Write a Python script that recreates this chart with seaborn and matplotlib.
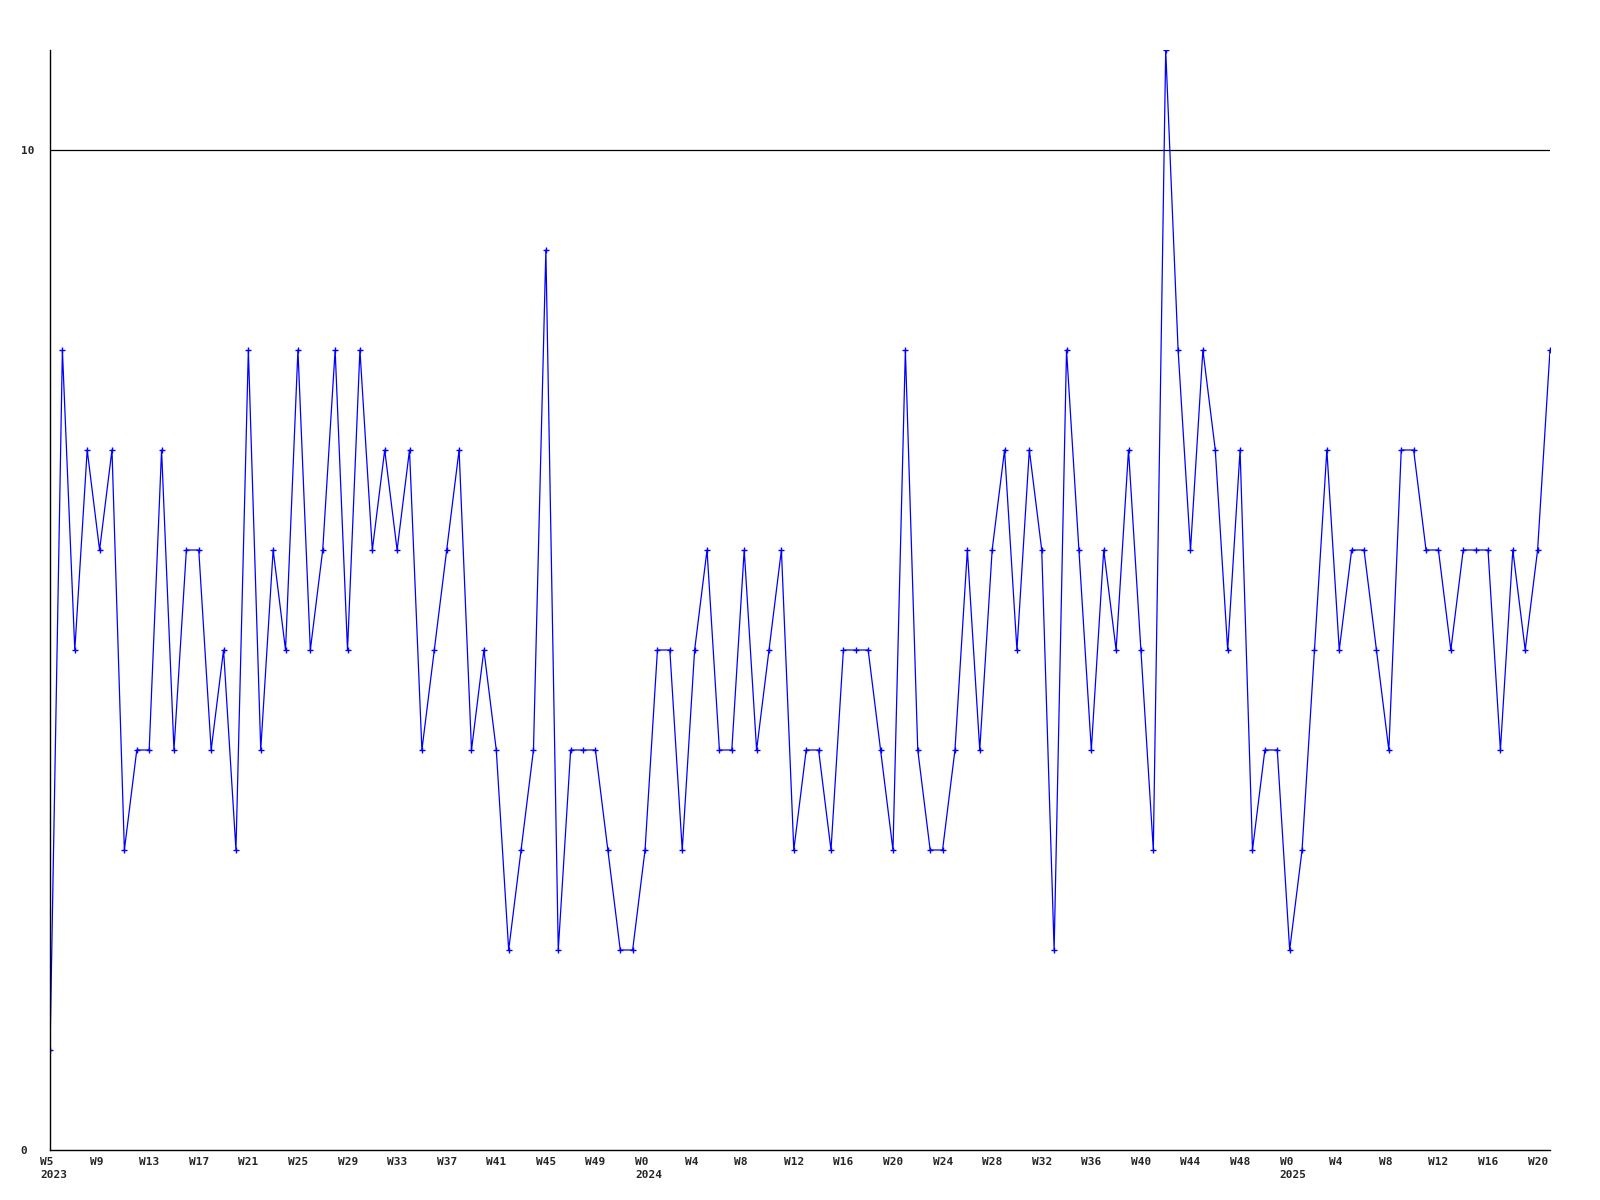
import pandas as pd
import seaborn as sns
import matplotlib.pyplot as plt
from matplotlib.transforms import ScaledTranslation

# weekly counts, W5 2023 .. W21 2025
values_2023 = [1, 8, 5, 7, 6, 7, 3, 4, 4, 7,
               4, 6, 6, 4, 5, 3, 8, 4, 6, 5,
               8, 5, 6, 8, 5, 8, 6, 7, 6, 7,
               4, 5, 6, 7, 4, 5, 4, 2, 3, 4,
               9, 2, 4, 4, 4, 3, 2, 2]
values_2024 = [3, 5, 5, 3, 5, 6, 4, 4, 6, 4,
               5, 6, 3, 4, 4, 3, 5, 5, 5, 4,
               3, 8, 4, 3, 3, 4, 6, 4, 6, 7,
               5, 7, 6, 2, 8, 6, 4, 6, 5, 7,
               5, 3, 11, 8, 6, 8, 7, 5, 7, 3,
               4, 4]
values_2025 = [2, 3, 5, 7, 5, 6, 6, 5, 4, 7,
               7, 6, 6, 5, 6, 6, 6, 4, 6, 5,
               6, 8]

weeks_2023 = list(range(5, 53))
weeks_2024 = list(range(0, 52))
weeks_2025 = list(range(0, 22))

tick_labels = ["W5\n2023", "W9", "W13", "W17", "W21", "W25", "W29", "W33",
               "W37", "W41", "W45", "W49",
               "W0\n2024", "W4", "W8", "W12", "W16", "W20", "W24", "W28",
               "W32", "W36", "W40", "W44", "W48",
               "W0\n2025", "W4", "W8", "W12", "W16", "W20"]
y_ticks = [0, 10]

df = pd.DataFrame({
    "year": [2023] * len(weeks_2023) + [2024] * len(weeks_2024) + [2025] * len(weeks_2025),
    "week": weeks_2023 + weeks_2024 + weeks_2025,
    "count": values_2023 + values_2024 + values_2025,
})
df["pos"] = range(len(df))

# ticks every 4th week within each year
tick_pos = df.loc[((df["year"] == 2023) & ((df["week"] - 5) % 4 == 0)) |
                  ((df["year"] != 2023) & (df["week"] % 4 == 0)), "pos"].tolist()

sns.set_style("white")
plt.rcParams["font.family"] = ["DejaVu Sans Mono", "DejaVu Sans"]
plt.rcParams["font.weight"] = "bold"

fig = plt.figure(figsize=(16, 12), dpi=100)
ax = fig.add_axes([50 / 1600, 50 / 1200, 1500 / 1600, 1100 / 1200])

sns.lineplot(data=df, x="pos", y="count", ax=ax, color="#0000ff", linewidth=0.9,
             marker="+", markersize=5, markeredgewidth=1.0, markeredgecolor="#0000ff")

ax.axhline(10, color="black", linewidth=0.9, zorder=1)

ax.set_xlim(0, len(df) - 1)
ax.set_ylim(0, 11)
ax.set_xticks(tick_pos)
ax.set_xticklabels(tick_labels, fontsize=8, fontweight="bold", ha="left",
                   multialignment="left", linespacing=1.35)
ax.set_yticks(y_ticks)
ax.set_yticklabels([str(t) for t in y_ticks], fontsize=8, fontweight="bold", ha="left")
ax.tick_params(axis="x", length=0, pad=5)
ax.tick_params(axis="y", length=0, pad=21)
ax.set_xlabel("")
ax.set_ylabel("")

# labels start a little left of their week
shift = ScaledTranslation(-10 / 100, 0, fig.dpi_scale_trans)
for lbl in ax.get_xticklabels():
    lbl.set_transform(lbl.get_transform() + shift)

for side in ["top", "right"]:
    ax.spines[side].set_visible(False)
for side in ["left", "bottom"]:
    ax.spines[side].set_color("black")
    ax.spines[side].set_linewidth(1.0)

fig.savefig("out.png", dpi=100)
